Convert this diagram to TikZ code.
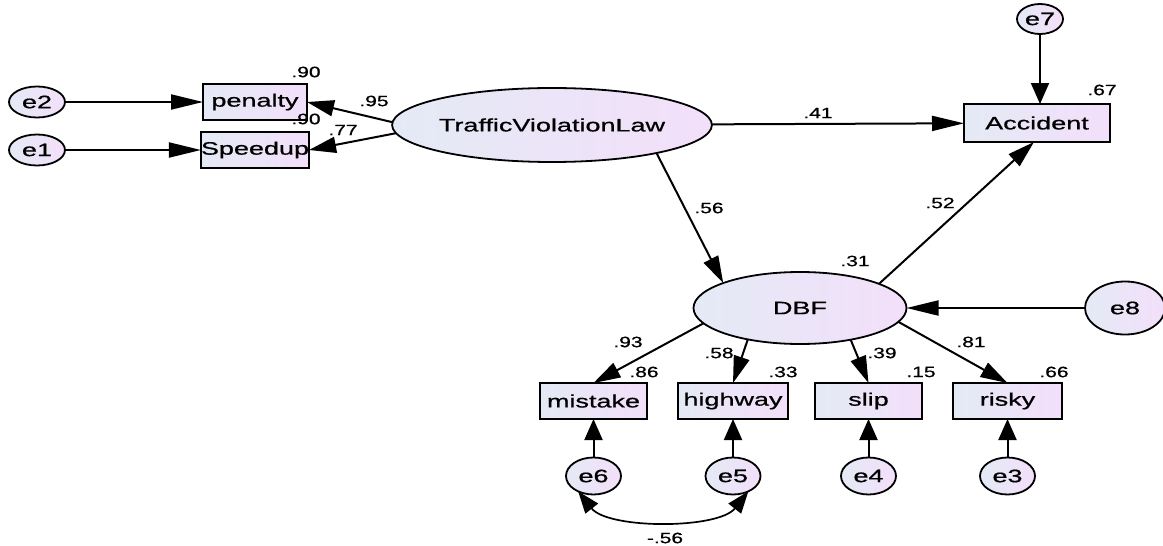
\documentclass[tikz,border=0pt]{standalone}
\usepackage{fontspec}
\setmainfont{Liberation Sans}
\newfontfamily\nf{Liberation Sans}[FakeBold=0.6]
\usepackage{graphicx}
\usetikzlibrary{arrows.meta,shapes.geometric}
\definecolor{lc}{RGB}{228,234,245}
\definecolor{rc}{RGB}{243,223,250}
\newcommand\stx[1]{\scalebox{1.5}[1]{#1}}
\newcommand\lbx[1]{\scalebox{1.4}[1]{#1}}
\begin{document}
\begin{tikzpicture}[x=1pt,y=-1pt,
  obs/.style={rectangle,draw,line width=2.4pt,left color=lc,right color=rc,minimum width=#1,minimum height=36pt,inner sep=0pt,outer sep=0pt,font=\nf\fontsize{18}{20}\selectfont},
  lat/.style 2 args={ellipse,draw,line width=1.8pt,left color=lc,right color=rc,minimum width=#1,minimum height=#2,inner sep=0pt,outer sep=0pt,font=\nf\fontsize{18}{20}\selectfont},
  lab/.style={font=\nf\fontsize{15}{16}\selectfont,inner sep=0pt},
  con/.style={line width=2pt},
  harr/.style={-{Triangle[length=32pt,width=15pt]}},
  varr/.style={-{Triangle[length=21pt,width=18pt]}},
  darr/.style={-{Triangle[length=27pt,width=16pt]}},
  cov/.style={line width=1.7pt,{Triangle[length=22pt,width=16pt]}-{Triangle[length=22pt,width=16pt]}}]
\useasboundingbox (0,0) rectangle (1163,546);
% observed
\node[obs=104pt] (pen) at (255,102) {\stx{penalty}};
\node[obs=104pt] (spd) at (255,150) {\stx{Speedup}};
\node[obs=146pt,minimum height=38pt] (acc) at (1037,123) {\stx{Accident}};
\node[obs=107pt] (mis) at (593.5,401) {\stx{mistake}};
\node[obs=110pt] (hwy) at (733,401) {\stx{highway}};
\node[obs=107pt] (slp) at (868.5,401) {\stx{slip}};
\node[obs=109pt] (rsk) at (1007.5,401) {\stx{risky}};
% latent
\node[lat={296pt}{74pt}] (tvl) at (552,125) {\stx{TrafficViolationLaw}};
\node[lat={213pt}{72pt}] (dbf) at (800,308) {\stx{DBF}};
% errors
\node[lat={56pt}{31pt}] (e2) at (37,102) {\stx{e2}};
\node[lat={56pt}{31pt}] (e1) at (37,150) {\stx{e1}};
\node[lat={46pt}{30pt}] (e7) at (1040,19) {\stx{e7}};
\node[lat={80pt}{53pt}] (e8) at (1125,308) {\stx{e8}};
\node[lat={55pt}{37pt}] (e6) at (593.5,476) {\stx{e6}};
\node[lat={55pt}{37pt}] (e5) at (733,476) {\stx{e5}};
\node[lat={55pt}{37pt}] (e4) at (868.5,476) {\stx{e4}};
\node[lat={55pt}{37pt}] (e3) at (1007.5,476) {\stx{e3}};
% connectors
\draw[con,harr] (e2) -- (pen);
\draw[con,harr] (e1) -- (spd);
\draw[con,darr] (tvl.179) -- (pen.east);
\draw[con,darr] (tvl.183) -- (spd.east);
\draw[con,harr] (tvl) -- (acc);
\draw[con,darr] (tvl.-15) -- (dbf.162);
\draw[con,darr] (dbf.17) -- ([xshift=-3pt]acc.south);
\draw[con,varr] (e7) -- (e7 |- acc.north);
\draw[con,harr] (e8) -- (dbf);
\draw[con,darr] (dbf.189) -- (mis.north);
\draw[con,darr] (dbf.211.6) -- (hwy.north);
\draw[con,darr] (dbf.-32) -- (slp.north);
\draw[con,darr] (dbf.-8.5) -- (rsk.north);
\draw[con,varr] (e6) -- (e6 |- mis.south);
\draw[con,varr] (e5) -- (e5 |- hwy.south);
\draw[con,varr] (e4) -- (e4 |- slp.south);
\draw[con,varr] (e3) -- (e3 |- rsk.south);
\draw[cov] (e6.225) .. controls +(30,38) and +(-30,38) .. (e5.315);
% labels
\node[lab] (l1) at (306,72) {\lbx{.90}};
\node[lab] (l2) at (306,119) {\lbx{.90}};
\node[lab] (l3) at (374,101) {\lbx{.95}};
\node[lab] (l4) at (343,130) {\lbx{.77}};
\node[lab] (l5) at (818,113) {\lbx{.41}};
\node[lab] (l6) at (1102,90) {\lbx{.67}};
\node[lab] (l7) at (709,208) {\lbx{.56}};
\node[lab] (l8) at (940,203) {\lbx{.52}};
\node[lab] (l9) at (855,261) {\lbx{.31}};
\node[lab] (l10) at (628,342) {\lbx{.93}};
\node[lab] (l11) at (644,372) {\lbx{.86}};
\node[lab] (l12) at (719,353) {\lbx{.58}};
\node[lab] (l13) at (783,372) {\lbx{.33}};
\node[lab] (l14) at (882,353) {\lbx{.39}};
\node[lab] (l15) at (921,372) {\lbx{.15}};
\node[lab] (l16) at (971,342) {\lbx{.81}};
\node[lab] (l17) at (1054,372) {\lbx{.66}};
\node[lab] (l18) at (665,538) {\lbx{-.56}};
\end{tikzpicture}
\end{document}
